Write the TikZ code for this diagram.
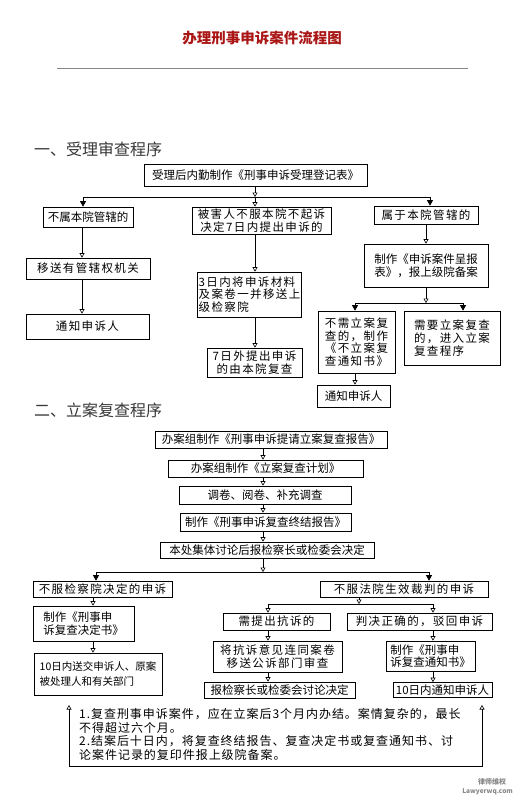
\documentclass[tikz,border=0pt]{standalone}
\usepackage{fontspec}
\setmainfont{Noto Sans CJK SC}
\newfontfamily\widefont[LetterSpace=12]{Noto Sans CJK SC}
\newfontfamily\notefont[LetterSpace=8]{Noto Sans CJK SC}
\usetikzlibrary{arrows.meta,shadows}
\usepackage{xcolor}
\definecolor{flred}{RGB}{170,22,22}
\definecolor{flgray}{RGB}{135,135,135}
\definecolor{flhead}{RGB}{55,55,55}
\tikzset{
    box/.style={
        draw=black,line width=0.7pt,fill=white,inner sep=1pt,
        align=center,font=\fontsize{11.5}{12.5}\selectfont,
        drop shadow={shadow xshift=0.9pt,shadow yshift=-0.9pt,fill=black!85,opacity=1}
    },
    wide/.style={font=\widefont\fontsize{11.5}{12.7}\selectfont},
    arrow/.style={
        -{Triangle[open,length=4.5pt,width=5pt]},line width=0.6pt
    },
    farrow/.style={
        -{Triangle[length=5.5pt,width=6pt]},line width=0.6pt
    },
    branch/.style={line width=0.9pt}
}

\begin{document}
\begin{tikzpicture}[x=1pt,y=-1pt]
\useasboundingbox (0,0) rectangle (517,800);

% title
\node[font=\fontsize{14.5}{16}\selectfont\bfseries,text=flred] (title) at (262,38)
{办理刑事申诉案件流程图};
\draw[flgray,line width=0.8pt] (57,68) -- (468,68);

% part one
\node[anchor=west,inner sep=0pt,font=\fontsize{16}{18}\selectfont,text=flhead] (h1) at (34,149)
{一、受理审查程序};

\coordinate (cl) at (82,0);
\coordinate (cm) at (255,0);

\node[box,minimum width=223pt,minimum height=22pt] (acc) at (255.5,175)
{受理后内勤制作《刑事申诉受理登记表》};

\node[box,minimum width=90pt,minimum height=20pt] (out) at (88,217)
{不属本院管辖的};
\node[box,wide,minimum width=139pt,minimum height=27pt] (vic) at (261.5,220.5)
{被害人不服本院不起诉\\决定7日内提出申诉的};
\node[box,wide,minimum width=104pt,minimum height=18pt] (own) at (426,215)
{属于本院管辖的};

\node[box,wide,minimum width=124pt,minimum height=21pt] (trf) at (88,268.5)
{移送有管辖权机关};
\node[box,wide,minimum width=123pt,minimum height=25pt] (ntf1) at (87.5,326.5)
{通知申诉人};

\node[box,wide,align=left,minimum width=101pt,minimum height=45pt] (fwd) at (249.5,294.5)
{3日内将申诉材料\\及案卷一并移送上\\级检察院};
\node[box,wide,minimum width=95pt,minimum height=29pt] (rev) at (254.5,362.5)
{7日外提出申诉\\的由本院复查};

\node[box,align=left,minimum width=124pt,minimum height=43pt] (rep) at (426,265.5)
{制作《申诉案件呈报\\表》，报上级院备案};
\node[box,wide,align=left,minimum width=77pt,minimum height=62pt] (nrv) at (356.5,342)
{不需立案复\\查的，制作\\《不立案复\\查通知书》};
\node[box,wide,align=left,minimum width=96pt,minimum height=54pt] (frv) at (452,338)
{需要立案复查\\的，进入立案\\复查程序};
\node[box,minimum width=73pt,minimum height=22pt] (ntf2) at (353.5,396)
{通知申诉人};

\coordinate (j1) at (255,197);
\coordinate (j1l) at (83,197);
\coordinate (j1r) at (430,197);
\coordinate (j2) at (426,303);
\coordinate (j2l) at (355,303);
\coordinate (j2r) at (463,303);

\draw[arrow] (acc.south -| j1) -- (j1);
\draw[branch] (j1l) -- (j1r);
\draw[farrow] (j1l) -- (j1l |- out.north);
\draw[arrow] (j1) -- (j1 |- vic.north);
\draw[farrow] (j1r) -- (j1r |- own.north);

\draw[arrow] (out.south -| cl) -- (trf.north -| cl);
\draw[arrow] (trf.south -| cl) -- (ntf1.north -| cl);
\draw[arrow] (vic.south -| cm) -- (fwd.north -| cm);
\draw[arrow] (fwd.south -| cm) -- (rev.north -| cm);

\draw[arrow] (own.south) -- (rep.north);
\draw[arrow] (rep.south) -- (j2);
\draw[branch] (j2l) -- (j2r);
\draw[farrow] (j2l) -- (j2l |- nrv.north);
\draw[farrow] (j2r) -- (j2r |- frv.north);
\draw[arrow] (nrv.south -| j2l) -- (ntf2.north -| j2l);

% part two
\node[anchor=west,inner sep=0pt,font=\fontsize{16}{18}\selectfont,text=flhead] (h2) at (34,410)
{二、立案复查程序};

\coordinate (sp) at (263,0);
\coordinate (cl2) at (93,0);

\node[box,minimum width=232pt,minimum height=17pt] (sub) at (271,439.5)
{办案组制作《刑事申诉提请立案复查报告》};
\node[box,minimum width=195pt,minimum height=17pt] (plan) at (265.5,468.5)
{办案组制作《立案复查计划》};
\node[box,minimum width=172pt,minimum height=18pt] (inv) at (265,495)
{调卷、阅卷、补充调查};
\node[box,minimum width=171pt,minimum height=18pt] (fin) at (265.5,522)
{制作《刑事申诉复查终结报告》};
\node[box,minimum width=214pt,minimum height=16pt] (dec) at (267,550)
{本处集体讨论后报检察长或检委会决定};

\draw[arrow] (sub.south -| sp) -- (plan.north -| sp);
\draw[arrow] (plan.south -| sp) -- (inv.north -| sp);
\draw[arrow] (inv.south -| sp) -- (fin.north -| sp);
\draw[arrow] (fin.south -| sp) -- (dec.north -| sp);

\node[box,wide,minimum width=139pt,minimum height=16pt] (proc) at (102.5,589)
{不服检察院决定的申诉};
\node[box,align=left,minimum width=101pt,minimum height=35pt] (pdoc) at (83.5,623.5)
{制作《刑事申\\诉复查决定书》};
\node[box,align=left,font=\fontsize{10.5}{15}\selectfont,minimum width=128pt,minimum height=42pt] (psend) at (98,674)
{10日内送交申诉人、原案\\被处理人和有关部门};

\node[box,wide,minimum width=168pt,minimum height=16pt] (court) at (404,589)
{不服法院生效裁判的申诉};
\node[box,wide,minimum width=107pt,minimum height=17pt] (prot) at (276.5,621.5)
{需提出抗诉的};
\node[box,wide,minimum width=145pt,minimum height=17pt] (dism) at (419.5,621.5)
{判决正确的，驳回申诉};
\node[box,wide,minimum width=129pt,minimum height=31pt] (ptrf) at (277.5,656.5)
{将抗诉意见连同案卷\\移送公诉部门审查};
\node[box,align=left,minimum width=89pt,minimum height=30pt] (cdoc) at (430.5,656)
{制作《刑事申\\诉复查通知书》};
\node[box,minimum width=151pt,minimum height=16pt] (pdec) at (279.5,690)
{报检察长或检委会讨论决定};
\node[box,minimum width=99pt,minimum height=15pt] (cntf) at (442.5,690)
{10日内通知申诉人};

\coordinate (k1) at (263,572);
\coordinate (k1l) at (96,572);
\coordinate (k1r) at (429,572);
\coordinate (k2) at (359,604);
\coordinate (k2l) at (268,604);
\coordinate (k2r) at (433,604);

\draw[arrow] (dec.south -| k1) -- (k1);
\draw[branch] (k1l) -- (k1r);
\draw[farrow] (k1l) -- (k1l |- proc.north);
\draw[farrow] (k1r) -- (k1r |- court.north);

\draw[arrow] (proc.south -| cl2) -- (pdoc.north -| cl2);
\draw[arrow] (pdoc.south -| cl2) -- (psend.north -| cl2);

\draw[arrow] (court.south -| k2) -- (k2);
\draw[branch] (k2l) -- (k2r);
\draw[arrow] (k2l) -- (k2l |- prot.north);
\draw[arrow] (k2r) -- (k2r |- dism.north);
\draw[arrow] (prot.south -| k2l) -- (ptrf.north -| k2l);
\draw[arrow] (ptrf.south -| k2l) -- (pdec.north -| k2l);
\draw[arrow] (dism.south -| k2r) -- (cdoc.north -| k2r);
\draw[arrow] (cdoc.south -| k2r) -- (cntf.north -| k2r);

% note
\coordinate (nl) at (69,705);
\coordinate (nr) at (482,705);
\draw[{Triangle[open,length=4.5pt,width=5pt]}-{Triangle[open,length=4.5pt,width=5pt]},line width=0.6pt]
(nl) -- ++(0,61) -- ++(413,0) -- (nr);

\node[anchor=north west,align=left,inner sep=0pt,font=\notefont\fontsize{12}{13.7}\selectfont] (note) at (79,708)
{1.复查刑事申诉案件，应在立案后3个月内办结。案情复杂的，最长\\
不得超过六个月。\\
2.结案后十日内，将复查终结报告、复查决定书或复查通知书、讨\\
论案件记录的复印件报上级院备案。};

\node[font=\fontsize{7}{8}\selectfont\bfseries,text=flgray] (wm1) at (492,782) {律师维权};
\node[anchor=east,inner sep=1pt,font=\fontsize{6.5}{8}\selectfont\bfseries,text=flgray] (wm2) at (514,792) {Lawyerwq.com};

\end{tikzpicture}
\end{document}
